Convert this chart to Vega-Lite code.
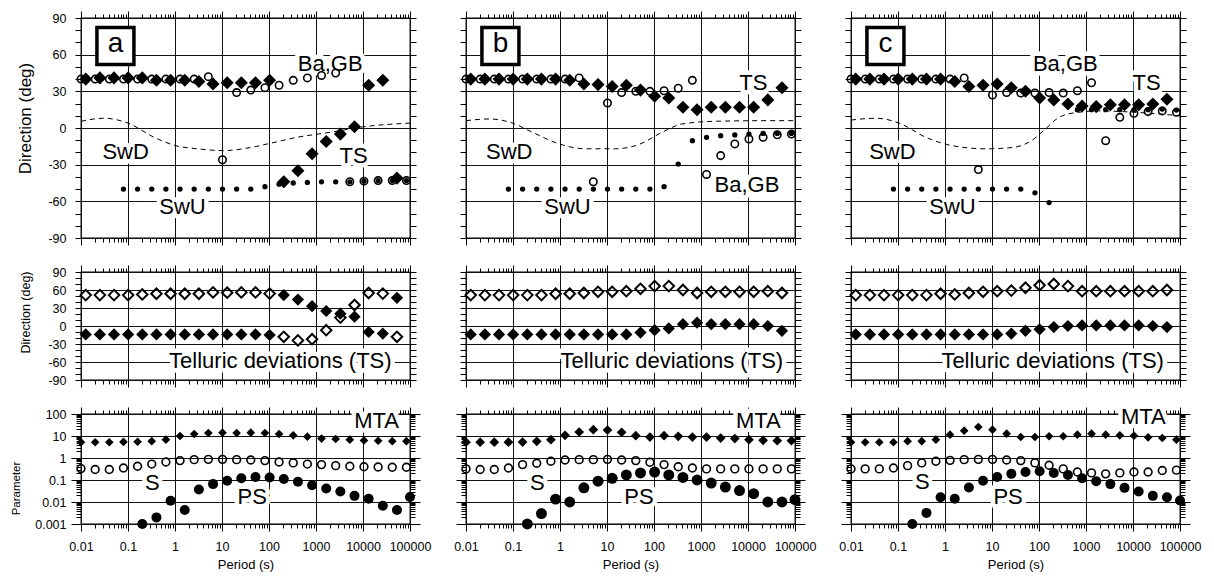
{
"$schema":"https://vega.github.io/schema/vega-lite/v6.json",
"padding":{"left":10,"top":9,"right":5,"bottom":5},
"background":"white",
"config":{
 "view":{"stroke":"black","strokeWidth":1.3},
 "font":"Liberation Sans",
 "axis":{"domain":false,"tickColor":"black","tickWidth":1,"gridColor":"#111","gridWidth":1,"labelColor":"black","labelFont":"Liberation Sans","labelFontSize":12.5,"titleFont":"Liberation Sans","titleFontWeight":"normal","titleColor":"black","labelFlush":false,"labelOverlap":false},
 "text":{"font":"Liberation Sans"}
},
"datasets":{
"aTS":[{"p":0.0126,"v":40},{"p":0.0252,"v":41},{"p":0.0504,"v":41},{"p":0.1007,"v":41},{"p":0.2014,"v":41},{"p":0.4029,"v":39},{"p":0.8057,"v":39},{"p":1.611,"v":39},{"p":3.223,"v":38},{"p":6.446,"v":36},{"p":12.89,"v":37},{"p":25.78,"v":37},{"p":51.57,"v":37},{"p":103.1,"v":39},{"p":206.3,"v":-44},{"p":412.5,"v":-35},{"p":825.1,"v":-21},{"p":1650,"v":-11},{"p":3300,"v":-5},{"p":6600,"v":1},{"p":13200,"v":35},{"p":26400,"v":39},{"p":52800,"v":-41}],
"aBG":[{"p":0.01,"v":40},{"p":0.02,"v":40},{"p":0.04,"v":40},{"p":0.08,"v":40},{"p":0.16,"v":40},{"p":0.32,"v":40},{"p":0.64,"v":40},{"p":1.28,"v":40},{"p":2.56,"v":40},{"p":5.12,"v":42},{"p":10.24,"v":-26},{"p":20.48,"v":29},{"p":40.96,"v":31},{"p":81.92,"v":33},{"p":163.84,"v":35},{"p":327.68,"v":39},{"p":655.36,"v":41},{"p":1310.72,"v":43},{"p":2621.44,"v":45},{"p":5242.88,"v":-44},{"p":10485.76,"v":-43.5},{"p":20971.52,"v":-43},{"p":41943.04,"v":-43},{"p":83886.08,"v":-43}],
"aSU":[{"p":0.08,"v":-50},{"p":0.16,"v":-50},{"p":0.32,"v":-50},{"p":0.64,"v":-50},{"p":1.28,"v":-50},{"p":2.56,"v":-50},{"p":5.12,"v":-50},{"p":10.24,"v":-50},{"p":20.48,"v":-50},{"p":40.96,"v":-50},{"p":81.92,"v":-48},{"p":163.84,"v":-46},{"p":327.68,"v":-45},{"p":655.36,"v":-44.5},{"p":1310.72,"v":-44},{"p":2621.44,"v":-44},{"p":5242.88,"v":-44},{"p":10485.76,"v":-43.5},{"p":20971.52,"v":-43},{"p":41943.04,"v":-43},{"p":83886.08,"v":-43}],
"aSD":[{"p":0.01,"v":5.5},{"p":0.031,"v":8},{"p":0.1,"v":4},{"p":0.36,"v":-7.6},{"p":1.04,"v":-14.5},{"p":3,"v":-17},{"p":11,"v":-18.5},{"p":40,"v":-16},{"p":107,"v":-12.5},{"p":400,"v":-7.6},{"p":2000,"v":-3.5},{"p":10200,"v":1},{"p":100000,"v":4}],
"bTS":[{"p":0.0126,"v":40},{"p":0.0252,"v":40},{"p":0.0504,"v":40},{"p":0.1007,"v":40},{"p":0.2014,"v":40},{"p":0.4029,"v":40},{"p":0.8057,"v":40},{"p":1.611,"v":39},{"p":3.223,"v":36},{"p":6.446,"v":35.5},{"p":12.89,"v":34},{"p":25.78,"v":35},{"p":51.57,"v":31},{"p":103.1,"v":26},{"p":206.3,"v":24.5},{"p":412.5,"v":17},{"p":825.1,"v":15},{"p":1650,"v":17},{"p":3300,"v":17},{"p":6600,"v":17},{"p":13200,"v":17},{"p":26400,"v":23},{"p":52800,"v":33}],
"bBG":[{"p":0.01,"v":40},{"p":0.02,"v":40},{"p":0.04,"v":40},{"p":0.08,"v":40},{"p":0.16,"v":40},{"p":0.32,"v":40},{"p":0.64,"v":40},{"p":1.28,"v":40},{"p":2.56,"v":41},{"p":5.12,"v":-44},{"p":10.24,"v":20.5},{"p":20.48,"v":29},{"p":40.96,"v":30},{"p":81.92,"v":30},{"p":163.84,"v":30.5},{"p":327.68,"v":32.5},{"p":655.36,"v":39},{"p":1310.72,"v":-38},{"p":2621.44,"v":-22.6},{"p":5242.88,"v":-13},{"p":10485.76,"v":-9},{"p":20971.52,"v":-7.6},{"p":41943.04,"v":-5.5},{"p":83886.08,"v":-5}],
"bSU":[{"p":0.08,"v":-50},{"p":0.16,"v":-50},{"p":0.32,"v":-50},{"p":0.64,"v":-50},{"p":1.28,"v":-50},{"p":2.56,"v":-50},{"p":5.12,"v":-50},{"p":10.24,"v":-50},{"p":20.48,"v":-50},{"p":40.96,"v":-50},{"p":81.92,"v":-50},{"p":163.84,"v":-48},{"p":327.68,"v":-29.5},{"p":655.36,"v":-10.4},{"p":1310.72,"v":-7.6},{"p":2621.44,"v":-6.3},{"p":5242.88,"v":-5.7},{"p":10485.76,"v":-5},{"p":20971.52,"v":-4.4},{"p":41943.04,"v":-4.4},{"p":83886.08,"v":-4.4}],
"bSD":[{"p":0.01,"v":6},{"p":0.0313,"v":7.4},{"p":0.098,"v":4},{"p":0.26,"v":-3.5},{"p":0.955,"v":-13},{"p":3.5,"v":-17},{"p":15.2,"v":-17},{"p":47,"v":-13.6},{"p":149,"v":-3.5},{"p":396,"v":3.3},{"p":2000,"v":5.5},{"p":23000,"v":6},{"p":100000,"v":6}],
"cTS":[{"p":0.0126,"v":40},{"p":0.0252,"v":40},{"p":0.0504,"v":40},{"p":0.1007,"v":40},{"p":0.2014,"v":40},{"p":0.4029,"v":40},{"p":0.8057,"v":40},{"p":1.611,"v":38},{"p":3.223,"v":34},{"p":6.446,"v":35},{"p":12.89,"v":36},{"p":25.78,"v":33},{"p":51.57,"v":30},{"p":103.1,"v":24.5},{"p":206.3,"v":23},{"p":412.5,"v":19.6},{"p":825.1,"v":18},{"p":1650,"v":17.5},{"p":3300,"v":19},{"p":6600,"v":19},{"p":13200,"v":19},{"p":26400,"v":19.6},{"p":52800,"v":23.5}],
"cBG":[{"p":0.01,"v":40},{"p":0.02,"v":40},{"p":0.04,"v":40},{"p":0.08,"v":40},{"p":0.16,"v":40},{"p":0.32,"v":40},{"p":0.64,"v":40},{"p":1.28,"v":40},{"p":2.56,"v":41},{"p":5.12,"v":-34},{"p":10.24,"v":27},{"p":20.48,"v":29},{"p":40.96,"v":28.6},{"p":81.92,"v":28.6},{"p":163.84,"v":29},{"p":327.68,"v":28.6},{"p":655.36,"v":30.5},{"p":1310.72,"v":37},{"p":2621.44,"v":-10.4},{"p":5242.88,"v":8.7},{"p":10485.76,"v":12},{"p":20971.52,"v":13.4},{"p":41943.04,"v":14},{"p":83886.08,"v":12.8}],
"cSU":[{"p":0.08,"v":-50},{"p":0.16,"v":-50},{"p":0.32,"v":-50},{"p":0.64,"v":-50},{"p":1.28,"v":-50},{"p":2.56,"v":-50},{"p":5.12,"v":-50},{"p":10.24,"v":-50},{"p":20.48,"v":-50},{"p":40.96,"v":-50},{"p":81.92,"v":-53},{"p":163.84,"v":-61},{"p":655.36,"v":15},{"p":1310.72,"v":15},{"p":2621.44,"v":15},{"p":5242.88,"v":15},{"p":10485.76,"v":15},{"p":20971.52,"v":15},{"p":41943.04,"v":15.5},{"p":83886.08,"v":14.7}],
"cSD":[{"p":0.01,"v":6.5},{"p":0.034,"v":8},{"p":0.106,"v":4},{"p":0.39,"v":-7.6},{"p":1.44,"v":-14.5},{"p":7.3,"v":-17},{"p":27,"v":-16},{"p":71,"v":-10},{"p":135,"v":-1},{"p":250,"v":8},{"p":590,"v":12.5},{"p":1860,"v":14},{"p":9500,"v":13},{"p":100000,"v":10}],
"aMO":[{"p":0.0126,"v":51.5},{"p":0.0252,"v":51.5},{"p":0.0504,"v":51.5},{"p":0.1007,"v":51.5},{"p":0.2014,"v":52.6},{"p":0.4029,"v":53.7},{"p":0.8057,"v":53.7},{"p":1.611,"v":53.7},{"p":3.223,"v":53.7},{"p":6.446,"v":56},{"p":12.89,"v":55.5},{"p":25.78,"v":56},{"p":51.57,"v":56},{"p":103.1,"v":54},{"p":206.3,"v":-18},{"p":412.5,"v":-24},{"p":825.1,"v":-22},{"p":1650,"v":-7},{"p":3300,"v":14},{"p":6600,"v":35},{"p":13200,"v":55},{"p":26400,"v":54},{"p":52800,"v":-18}],
"aMF":[{"p":0.0126,"v":-14},{"p":0.0252,"v":-14},{"p":0.0504,"v":-14},{"p":0.1007,"v":-14},{"p":0.2014,"v":-14},{"p":0.4029,"v":-14},{"p":0.8057,"v":-14},{"p":1.611,"v":-14},{"p":3.223,"v":-14},{"p":6.446,"v":-14},{"p":12.89,"v":-14},{"p":25.78,"v":-14},{"p":51.57,"v":-14},{"p":103.1,"v":-15},{"p":206.3,"v":51.5},{"p":412.5,"v":44},{"p":825.1,"v":33},{"p":1650,"v":25},{"p":3300,"v":20.5},{"p":6600,"v":15.5},{"p":13200,"v":-10},{"p":26400,"v":-12.7},{"p":52800,"v":47}],
"bMO":[{"p":0.0126,"v":51.5},{"p":0.0252,"v":51.5},{"p":0.0504,"v":51.5},{"p":0.1007,"v":51.5},{"p":0.2014,"v":51.5},{"p":0.4029,"v":51.5},{"p":0.8057,"v":53.7},{"p":1.611,"v":53.7},{"p":3.223,"v":55},{"p":6.446,"v":57},{"p":12.89,"v":57},{"p":25.78,"v":58},{"p":51.57,"v":62},{"p":103.1,"v":66.5},{"p":206.3,"v":66.5},{"p":412.5,"v":60},{"p":825.1,"v":55},{"p":1650,"v":57},{"p":3300,"v":57},{"p":6600,"v":57},{"p":13200,"v":57},{"p":26400,"v":58},{"p":52800,"v":55}],
"bMF":[{"p":0.0126,"v":-14},{"p":0.0252,"v":-14},{"p":0.0504,"v":-14},{"p":0.1007,"v":-14},{"p":0.2014,"v":-14},{"p":0.4029,"v":-14},{"p":0.8057,"v":-14},{"p":1.611,"v":-14},{"p":3.223,"v":-14},{"p":6.446,"v":-14},{"p":12.89,"v":-14},{"p":25.78,"v":-14},{"p":51.57,"v":-11},{"p":103.1,"v":-7},{"p":206.3,"v":-4},{"p":412.5,"v":3},{"p":825.1,"v":5.5},{"p":1650,"v":3},{"p":3300,"v":3},{"p":6600,"v":3},{"p":13200,"v":3},{"p":26400,"v":0},{"p":52800,"v":-8}],
"cMO":[{"p":0.0126,"v":51.5},{"p":0.0252,"v":51.5},{"p":0.0504,"v":51.5},{"p":0.1007,"v":51.5},{"p":0.2014,"v":51.5},{"p":0.4029,"v":51.5},{"p":0.8057,"v":53.7},{"p":1.611,"v":52.6},{"p":3.223,"v":55},{"p":6.446,"v":57},{"p":12.89,"v":58},{"p":25.78,"v":59},{"p":51.57,"v":63.7},{"p":103.1,"v":68},{"p":206.3,"v":70},{"p":412.5,"v":66.5},{"p":825.1,"v":58},{"p":1650,"v":58},{"p":3300,"v":58},{"p":6600,"v":58},{"p":13200,"v":58},{"p":26400,"v":58},{"p":52800,"v":60}],
"cMF":[{"p":0.0126,"v":-14},{"p":0.0252,"v":-14},{"p":0.0504,"v":-14},{"p":0.1007,"v":-14},{"p":0.2014,"v":-14},{"p":0.4029,"v":-14},{"p":0.8057,"v":-14},{"p":1.611,"v":-14},{"p":3.223,"v":-14},{"p":6.446,"v":-14},{"p":12.89,"v":-14},{"p":25.78,"v":-12.7},{"p":51.57,"v":-8},{"p":103.1,"v":-5.5},{"p":206.3,"v":-1.7},{"p":412.5,"v":0},{"p":825.1,"v":1},{"p":1650,"v":1},{"p":3300,"v":1},{"p":6600,"v":1},{"p":13200,"v":1},{"p":26400,"v":0},{"p":52800,"v":-1.7}],
"aMTA":[{"p":0.01,"v":5.2},{"p":0.02,"v":5.2},{"p":0.04,"v":5.2},{"p":0.08,"v":5.4},{"p":0.16,"v":5.5},{"p":0.32,"v":5.8},{"p":0.64,"v":6.8},{"p":1.28,"v":10},{"p":2.56,"v":12.3},{"p":5.12,"v":13.7},{"p":10.24,"v":14.2},{"p":20.48,"v":13.7},{"p":40.96,"v":14.2},{"p":81.92,"v":13.7},{"p":163.84,"v":12.3},{"p":327.68,"v":10.7},{"p":655.36,"v":9.3},{"p":1310.72,"v":7.6},{"p":2621.44,"v":7.3},{"p":5242.88,"v":6.8},{"p":10485.76,"v":6.3},{"p":20971.52,"v":6.1},{"p":41943.04,"v":5.8},{"p":83886.08,"v":5.8}],
"aS":[{"p":0.01,"v":0.33},{"p":0.02,"v":0.3},{"p":0.04,"v":0.3},{"p":0.08,"v":0.35},{"p":0.16,"v":0.42},{"p":0.32,"v":0.53},{"p":0.64,"v":0.66},{"p":1.28,"v":0.76},{"p":2.56,"v":0.84},{"p":5.12,"v":0.87},{"p":10.24,"v":0.87},{"p":20.48,"v":0.84},{"p":40.96,"v":0.81},{"p":81.92,"v":0.76},{"p":163.84,"v":0.66},{"p":327.68,"v":0.6},{"p":655.36,"v":0.53},{"p":1310.72,"v":0.5},{"p":2621.44,"v":0.45},{"p":5242.88,"v":0.42},{"p":10485.76,"v":0.4},{"p":20971.52,"v":0.39},{"p":41943.04,"v":0.38},{"p":83886.08,"v":0.38}],
"aPS":[{"p":0.2014,"v":0.001},{"p":0.4029,"v":0.002},{"p":0.8057,"v":0.0114},{"p":1.611,"v":0.0043},{"p":3.223,"v":0.037},{"p":6.446,"v":0.065},{"p":12.89,"v":0.093},{"p":25.78,"v":0.12},{"p":51.57,"v":0.137},{"p":103.1,"v":0.13},{"p":206.3,"v":0.11},{"p":412.5,"v":0.083},{"p":825.1,"v":0.058},{"p":1650,"v":0.041},{"p":3300,"v":0.03},{"p":6600,"v":0.019},{"p":13200,"v":0.0141},{"p":26400,"v":0.0068},{"p":52800,"v":0.0043},{"p":100000,"v":0.017}],
"bMTA":[{"p":0.01,"v":5.2},{"p":0.02,"v":5.2},{"p":0.04,"v":5.2},{"p":0.08,"v":5.2},{"p":0.16,"v":5.3},{"p":0.32,"v":5.7},{"p":0.64,"v":6.8},{"p":1.28,"v":10.7},{"p":2.56,"v":15.2},{"p":5.12,"v":19.4},{"p":10.24,"v":18.7},{"p":20.48,"v":14.7},{"p":40.96,"v":10.4},{"p":81.92,"v":9},{"p":163.84,"v":10.4},{"p":327.68,"v":9.7},{"p":655.36,"v":9},{"p":1310.72,"v":9},{"p":2621.44,"v":8.1},{"p":5242.88,"v":7.6},{"p":10485.76,"v":6.8},{"p":20971.52,"v":6.4},{"p":41943.04,"v":6.1},{"p":83886.08,"v":6.1}],
"bS":[{"p":0.01,"v":0.32},{"p":0.02,"v":0.3},{"p":0.04,"v":0.3},{"p":0.08,"v":0.35},{"p":0.16,"v":0.5},{"p":0.32,"v":0.58},{"p":0.64,"v":0.71},{"p":1.28,"v":0.81},{"p":2.56,"v":0.84},{"p":5.12,"v":0.84},{"p":10.24,"v":0.87},{"p":20.48,"v":0.81},{"p":40.96,"v":0.76},{"p":81.92,"v":0.64},{"p":163.84,"v":0.5},{"p":327.68,"v":0.4},{"p":655.36,"v":0.35},{"p":1310.72,"v":0.32},{"p":2621.44,"v":0.32},{"p":5242.88,"v":0.32},{"p":10485.76,"v":0.32},{"p":20971.52,"v":0.32},{"p":41943.04,"v":0.32},{"p":83886.08,"v":0.32}],
"bPS":[{"p":0.2014,"v":0.001},{"p":0.4029,"v":0.003},{"p":0.8057,"v":0.0135},{"p":1.611,"v":0.01},{"p":3.223,"v":0.044},{"p":6.446,"v":0.088},{"p":12.89,"v":0.12},{"p":25.78,"v":0.17},{"p":51.57,"v":0.21},{"p":103.1,"v":0.23},{"p":206.3,"v":0.17},{"p":412.5,"v":0.13},{"p":825.1,"v":0.1},{"p":1650,"v":0.073},{"p":3300,"v":0.048},{"p":6600,"v":0.033},{"p":13200,"v":0.024},{"p":26400,"v":0.01},{"p":52800,"v":0.01},{"p":100000,"v":0.0128}],
"cMTA":[{"p":0.01,"v":5.2},{"p":0.02,"v":5.2},{"p":0.04,"v":5.2},{"p":0.08,"v":5.2},{"p":0.16,"v":5.8},{"p":0.32,"v":5.8},{"p":0.64,"v":6.8},{"p":1.28,"v":11.5},{"p":2.56,"v":17.5},{"p":5.12,"v":25.6},{"p":10.24,"v":19.4},{"p":20.48,"v":12.8},{"p":40.96,"v":9},{"p":81.92,"v":9},{"p":163.84,"v":9.7},{"p":327.68,"v":9.7},{"p":655.36,"v":11.5},{"p":1310.72,"v":12.8},{"p":2621.44,"v":11.5},{"p":5242.88,"v":10.7},{"p":10485.76,"v":10.4},{"p":20971.52,"v":8.7},{"p":41943.04,"v":8.1},{"p":83886.08,"v":6.8}],
"cS":[{"p":0.01,"v":0.32},{"p":0.02,"v":0.32},{"p":0.04,"v":0.32},{"p":0.08,"v":0.35},{"p":0.16,"v":0.45},{"p":0.32,"v":0.6},{"p":0.64,"v":0.71},{"p":1.28,"v":0.78},{"p":2.56,"v":0.84},{"p":5.12,"v":0.87},{"p":10.24,"v":0.87},{"p":20.48,"v":0.81},{"p":40.96,"v":0.76},{"p":81.92,"v":0.6},{"p":163.84,"v":0.47},{"p":327.68,"v":0.32},{"p":655.36,"v":0.23},{"p":1310.72,"v":0.21},{"p":2621.44,"v":0.19},{"p":5242.88,"v":0.21},{"p":10485.76,"v":0.23},{"p":20971.52,"v":0.23},{"p":41943.04,"v":0.27},{"p":83886.08,"v":0.28}],
"cPS":[{"p":0.2014,"v":0.001},{"p":0.4029,"v":0.0032},{"p":0.8057,"v":0.0165},{"p":1.611,"v":0.014},{"p":3.223,"v":0.046},{"p":6.446,"v":0.093},{"p":12.89,"v":0.137},{"p":25.78,"v":0.19},{"p":51.57,"v":0.23},{"p":103.1,"v":0.25},{"p":206.3,"v":0.21},{"p":412.5,"v":0.17},{"p":825.1,"v":0.12},{"p":1650,"v":0.088},{"p":3300,"v":0.065},{"p":6600,"v":0.044},{"p":13200,"v":0.03},{"p":26400,"v":0.019},{"p":52800,"v":0.0165},{"p":100000,"v":0.0118}],
"ann":[
{"k":"a","r":"top","t":"Ba,GB","p":2000,"v":52},{"k":"a","r":"top","t":"SwD","p":0.089,"v":-20},{"k":"a","r":"top","t":"TS","p":6300,"v":-23},{"k":"a","r":"top","t":"SwU","p":1.44,"v":-65},
{"k":"b","r":"top","t":"TS","p":13000,"v":37},{"k":"b","r":"top","t":"SwD","p":0.083,"v":-20},{"k":"b","r":"top","t":"SwU","p":1.44,"v":-65},{"k":"b","r":"top","t":"Ba,GB","p":9500,"v":-47},
{"k":"c","r":"top","t":"Ba,GB","p":363,"v":52},{"k":"c","r":"top","t":"TS","p":19500,"v":37},{"k":"c","r":"top","t":"SwD","p":0.076,"v":-20},{"k":"c","r":"top","t":"SwU","p":1.44,"v":-65},
{"k":"a","r":"mid","t":"Telluric deviations (TS)","p":174,"v":-58},{"k":"b","r":"mid","t":"Telluric deviations (TS)","p":240,"v":-58},{"k":"c","r":"mid","t":"Telluric deviations (TS)","p":195,"v":-58},
{"k":"a","r":"bot","t":"MTA","p":19500,"v":46},{"k":"a","r":"bot","t":"S","p":0.33,"v":0.073},{"k":"a","r":"bot","t":"PS","p":44,"v":0.017},
{"k":"b","r":"bot","t":"MTA","p":16600,"v":46},{"k":"b","r":"bot","t":"S","p":0.33,"v":0.073},{"k":"b","r":"bot","t":"PS","p":48,"v":0.017},
{"k":"c","r":"bot","t":"MTA","p":16600,"v":70},{"k":"c","r":"bot","t":"S","p":0.33,"v":0.08},{"k":"c","r":"bot","t":"PS","p":22,"v":0.017},
{"k":"a","r":"box","t":"a","p":0.054,"v":67},{"k":"b","r":"box","t":"b","p":0.054,"v":67},{"k":"c","r":"box","t":"c","p":0.054,"v":67}
]
},
"columns":3,
"spacing":{"row":34,"column":56},
"bounds":"flush",
"concat":[
{"width":329,"height":220,"resolve":{"axis":{"x":"independent","y":"independent"}},"layer":[
 {"data":{"name":"aSD"},"mark":{"type":"line","color":"black","strokeWidth":1,"strokeDash":[5,4],"interpolate":"monotone"},
  "encoding":{"x":{"field":"p","type":"quantitative","scale":{"type":"log","domain":[0.01,100000],"nice":false},"axis":{"orient":"bottom","values":[0.01,0.02,0.03,0.04,0.05,0.06,0.07,0.08,0.09,0.1,0.2,0.3,0.4,0.5,0.6,0.7,0.8,0.9,1,2,3,4,5,6,7,8,9,10,20,30,40,50,60,70,80,90,100,200,300,400,500,600,700,800,900,1000,2000,3000,4000,5000,6000,7000,8000,9000,10000,20000,30000,40000,50000,60000,70000,80000,90000,100000],"labels":false,"title":null,"grid":true,"gridOpacity":{"condition":{"test":"abs(log(datum.value)/LN10-round(log(datum.value)/LN10))<0.01","value":1},"value":0},"tickSize":{"condition":{"test":"abs(log(datum.value)/LN10-round(log(datum.value)/LN10))<0.01","value":7},"value":4}}},
  "y":{"field":"v","type":"quantitative","scale":{"domain":[-90,90],"nice":false},"axis":{"orient":"left","values":[-90,-80,-70,-60,-50,-40,-30,-20,-10,0,10,20,30,40,50,60,70,80,90],"grid":true,"gridOpacity":{"condition":{"test":"datum.value%30==0","value":1},"value":0},"tickSize":6,"labelExpr":"datum.value%30==0?''+datum.value:''","labelPadding":9,"title":"Direction (deg)","titleFontSize":17,"titlePadding":13,"titleY":100}}}},
 {"data":{"name":"ann"},"transform":[{"filter":"datum.k=='a'&&datum.r=='top'"}],"mark":{"type":"text","fontSize":22,"fill":"white","stroke":"white","strokeWidth":9,"strokeJoin":"round"},
  "encoding":{"x":{"field":"p","type":"quantitative","scale":{"type":"log","domain":[0.01,100000],"nice":false},"axis":{"orient":"top","values":[0.01,0.02,0.03,0.04,0.05,0.06,0.07,0.08,0.09,0.1,0.2,0.3,0.4,0.5,0.6,0.7,0.8,0.9,1,2,3,4,5,6,7,8,9,10,20,30,40,50,60,70,80,90,100,200,300,400,500,600,700,800,900,1000,2000,3000,4000,5000,6000,7000,8000,9000,10000,20000,30000,40000,50000,60000,70000,80000,90000,100000],"labels":false,"title":null,"grid":false,"tickSize":{"condition":{"test":"abs(log(datum.value)/LN10-round(log(datum.value)/LN10))<0.01","value":7},"value":4}}},
  "y":{"field":"v","type":"quantitative","scale":{"domain":[-90,90],"nice":false},"axis":{"orient":"right","values":[-90,-80,-70,-60,-50,-40,-30,-20,-10,0,10,20,30,40,50,60,70,80,90],"labels":false,"title":null,"grid":false,"tickSize":6}},"text":{"field":"t"}}},
 {"data":{"name":"aBG"},"mark":{"type":"point","shape":"circle","filled":false,"color":"black","strokeWidth":1.6,"size":55,"opacity":1},"encoding":{"x":{"field":"p","type":"quantitative","scale":{"type":"log","domain":[0.01,100000],"nice":false},"axis":null},"y":{"field":"v","type":"quantitative","scale":{"domain":[-90,90],"nice":false},"axis":null}}},
 {"data":{"name":"aSU"},"mark":{"type":"point","shape":"circle","filled":true,"color":"black","size":28,"opacity":1},"encoding":{"x":{"field":"p","type":"quantitative","scale":{"type":"log","domain":[0.01,100000],"nice":false},"axis":null},"y":{"field":"v","type":"quantitative","scale":{"domain":[-90,90],"nice":false},"axis":null}}},
 {"data":{"name":"aTS"},"mark":{"type":"point","shape":"diamond","filled":true,"color":"black","size":170,"opacity":1},"encoding":{"x":{"field":"p","type":"quantitative","scale":{"type":"log","domain":[0.01,100000],"nice":false},"axis":null},"y":{"field":"v","type":"quantitative","scale":{"domain":[-90,90],"nice":false},"axis":null}}},
 {"data":{"name":"ann"},"transform":[{"filter":"datum.k=='a'&&datum.r=='box'"}],"mark":{"type":"point","shape":"square","filled":true,"fill":"white","stroke":"black","strokeWidth":3.5,"size":1369,"opacity":1},"encoding":{"x":{"field":"p","type":"quantitative","scale":{"type":"log","domain":[0.01,100000],"nice":false},"axis":null},"y":{"field":"v","type":"quantitative","scale":{"domain":[-90,90],"nice":false},"axis":null}}},
 {"data":{"name":"ann"},"transform":[{"filter":"datum.k=='a'&&datum.r=='box'"}],"mark":{"type":"text","fontSize":28,"color":"black","dy":-2},"encoding":{"x":{"field":"p","type":"quantitative","scale":{"type":"log","domain":[0.01,100000],"nice":false},"axis":null},"y":{"field":"v","type":"quantitative","scale":{"domain":[-90,90],"nice":false},"axis":null},"text":{"field":"t"}}},
 {"data":{"name":"ann"},"transform":[{"filter":"datum.k=='a'&&datum.r=='top'"}],"mark":{"type":"text","fontSize":22,"color":"black"},"encoding":{"x":{"field":"p","type":"quantitative","scale":{"type":"log","domain":[0.01,100000],"nice":false},"axis":null},"y":{"field":"v","type":"quantitative","scale":{"domain":[-90,90],"nice":false},"axis":null},"text":{"field":"t"}}}
]},
{"width":329,"height":220,"resolve":{"axis":{"x":"independent","y":"independent"}},"layer":[
 {"data":{"name":"bSD"},"mark":{"type":"line","color":"black","strokeWidth":1,"strokeDash":[5,4],"interpolate":"monotone"},
  "encoding":{"x":{"field":"p","type":"quantitative","scale":{"type":"log","domain":[0.01,100000],"nice":false},"axis":{"orient":"bottom","values":[0.01,0.02,0.03,0.04,0.05,0.06,0.07,0.08,0.09,0.1,0.2,0.3,0.4,0.5,0.6,0.7,0.8,0.9,1,2,3,4,5,6,7,8,9,10,20,30,40,50,60,70,80,90,100,200,300,400,500,600,700,800,900,1000,2000,3000,4000,5000,6000,7000,8000,9000,10000,20000,30000,40000,50000,60000,70000,80000,90000,100000],"labels":false,"title":null,"grid":true,"gridOpacity":{"condition":{"test":"abs(log(datum.value)/LN10-round(log(datum.value)/LN10))<0.01","value":1},"value":0},"tickSize":{"condition":{"test":"abs(log(datum.value)/LN10-round(log(datum.value)/LN10))<0.01","value":7},"value":4}}},
  "y":{"field":"v","type":"quantitative","scale":{"domain":[-90,90],"nice":false},"axis":{"orient":"left","values":[-90,-80,-70,-60,-50,-40,-30,-20,-10,0,10,20,30,40,50,60,70,80,90],"grid":true,"gridOpacity":{"condition":{"test":"datum.value%30==0","value":1},"value":0},"tickSize":6,"labels":false,"title":null}}}},
 {"data":{"name":"ann"},"transform":[{"filter":"datum.k=='b'&&datum.r=='top'"}],"mark":{"type":"text","fontSize":22,"fill":"white","stroke":"white","strokeWidth":9,"strokeJoin":"round"},
  "encoding":{"x":{"field":"p","type":"quantitative","scale":{"type":"log","domain":[0.01,100000],"nice":false},"axis":{"orient":"top","values":[0.01,0.02,0.03,0.04,0.05,0.06,0.07,0.08,0.09,0.1,0.2,0.3,0.4,0.5,0.6,0.7,0.8,0.9,1,2,3,4,5,6,7,8,9,10,20,30,40,50,60,70,80,90,100,200,300,400,500,600,700,800,900,1000,2000,3000,4000,5000,6000,7000,8000,9000,10000,20000,30000,40000,50000,60000,70000,80000,90000,100000],"labels":false,"title":null,"grid":false,"tickSize":{"condition":{"test":"abs(log(datum.value)/LN10-round(log(datum.value)/LN10))<0.01","value":7},"value":4}}},
  "y":{"field":"v","type":"quantitative","scale":{"domain":[-90,90],"nice":false},"axis":{"orient":"right","values":[-90,-80,-70,-60,-50,-40,-30,-20,-10,0,10,20,30,40,50,60,70,80,90],"labels":false,"title":null,"grid":false,"tickSize":6}},"text":{"field":"t"}}},
 {"data":{"name":"bBG"},"mark":{"type":"point","shape":"circle","filled":false,"color":"black","strokeWidth":1.6,"size":55,"opacity":1},"encoding":{"x":{"field":"p","type":"quantitative","scale":{"type":"log","domain":[0.01,100000],"nice":false},"axis":null},"y":{"field":"v","type":"quantitative","scale":{"domain":[-90,90],"nice":false},"axis":null}}},
 {"data":{"name":"bSU"},"mark":{"type":"point","shape":"circle","filled":true,"color":"black","size":28,"opacity":1},"encoding":{"x":{"field":"p","type":"quantitative","scale":{"type":"log","domain":[0.01,100000],"nice":false},"axis":null},"y":{"field":"v","type":"quantitative","scale":{"domain":[-90,90],"nice":false},"axis":null}}},
 {"data":{"name":"bTS"},"mark":{"type":"point","shape":"diamond","filled":true,"color":"black","size":170,"opacity":1},"encoding":{"x":{"field":"p","type":"quantitative","scale":{"type":"log","domain":[0.01,100000],"nice":false},"axis":null},"y":{"field":"v","type":"quantitative","scale":{"domain":[-90,90],"nice":false},"axis":null}}},
 {"data":{"name":"ann"},"transform":[{"filter":"datum.k=='b'&&datum.r=='box'"}],"mark":{"type":"point","shape":"square","filled":true,"fill":"white","stroke":"black","strokeWidth":3.5,"size":1369,"opacity":1},"encoding":{"x":{"field":"p","type":"quantitative","scale":{"type":"log","domain":[0.01,100000],"nice":false},"axis":null},"y":{"field":"v","type":"quantitative","scale":{"domain":[-90,90],"nice":false},"axis":null}}},
 {"data":{"name":"ann"},"transform":[{"filter":"datum.k=='b'&&datum.r=='box'"}],"mark":{"type":"text","fontSize":28,"color":"black","dy":-2},"encoding":{"x":{"field":"p","type":"quantitative","scale":{"type":"log","domain":[0.01,100000],"nice":false},"axis":null},"y":{"field":"v","type":"quantitative","scale":{"domain":[-90,90],"nice":false},"axis":null},"text":{"field":"t"}}},
 {"data":{"name":"ann"},"transform":[{"filter":"datum.k=='b'&&datum.r=='top'"}],"mark":{"type":"text","fontSize":22,"color":"black"},"encoding":{"x":{"field":"p","type":"quantitative","scale":{"type":"log","domain":[0.01,100000],"nice":false},"axis":null},"y":{"field":"v","type":"quantitative","scale":{"domain":[-90,90],"nice":false},"axis":null},"text":{"field":"t"}}}
]},
{"width":329,"height":220,"resolve":{"axis":{"x":"independent","y":"independent"}},"layer":[
 {"data":{"name":"cSD"},"mark":{"type":"line","color":"black","strokeWidth":1,"strokeDash":[5,4],"interpolate":"monotone"},
  "encoding":{"x":{"field":"p","type":"quantitative","scale":{"type":"log","domain":[0.01,100000],"nice":false},"axis":{"orient":"bottom","values":[0.01,0.02,0.03,0.04,0.05,0.06,0.07,0.08,0.09,0.1,0.2,0.3,0.4,0.5,0.6,0.7,0.8,0.9,1,2,3,4,5,6,7,8,9,10,20,30,40,50,60,70,80,90,100,200,300,400,500,600,700,800,900,1000,2000,3000,4000,5000,6000,7000,8000,9000,10000,20000,30000,40000,50000,60000,70000,80000,90000,100000],"labels":false,"title":null,"grid":true,"gridOpacity":{"condition":{"test":"abs(log(datum.value)/LN10-round(log(datum.value)/LN10))<0.01","value":1},"value":0},"tickSize":{"condition":{"test":"abs(log(datum.value)/LN10-round(log(datum.value)/LN10))<0.01","value":7},"value":4}}},
  "y":{"field":"v","type":"quantitative","scale":{"domain":[-90,90],"nice":false},"axis":{"orient":"left","values":[-90,-80,-70,-60,-50,-40,-30,-20,-10,0,10,20,30,40,50,60,70,80,90],"grid":true,"gridOpacity":{"condition":{"test":"datum.value%30==0","value":1},"value":0},"tickSize":6,"labels":false,"title":null}}}},
 {"data":{"name":"ann"},"transform":[{"filter":"datum.k=='c'&&datum.r=='top'"}],"mark":{"type":"text","fontSize":22,"fill":"white","stroke":"white","strokeWidth":9,"strokeJoin":"round"},
  "encoding":{"x":{"field":"p","type":"quantitative","scale":{"type":"log","domain":[0.01,100000],"nice":false},"axis":{"orient":"top","values":[0.01,0.02,0.03,0.04,0.05,0.06,0.07,0.08,0.09,0.1,0.2,0.3,0.4,0.5,0.6,0.7,0.8,0.9,1,2,3,4,5,6,7,8,9,10,20,30,40,50,60,70,80,90,100,200,300,400,500,600,700,800,900,1000,2000,3000,4000,5000,6000,7000,8000,9000,10000,20000,30000,40000,50000,60000,70000,80000,90000,100000],"labels":false,"title":null,"grid":false,"tickSize":{"condition":{"test":"abs(log(datum.value)/LN10-round(log(datum.value)/LN10))<0.01","value":7},"value":4}}},
  "y":{"field":"v","type":"quantitative","scale":{"domain":[-90,90],"nice":false},"axis":{"orient":"right","values":[-90,-80,-70,-60,-50,-40,-30,-20,-10,0,10,20,30,40,50,60,70,80,90],"labels":false,"title":null,"grid":false,"tickSize":6}},"text":{"field":"t"}}},
 {"data":{"name":"cBG"},"mark":{"type":"point","shape":"circle","filled":false,"color":"black","strokeWidth":1.6,"size":55,"opacity":1},"encoding":{"x":{"field":"p","type":"quantitative","scale":{"type":"log","domain":[0.01,100000],"nice":false},"axis":null},"y":{"field":"v","type":"quantitative","scale":{"domain":[-90,90],"nice":false},"axis":null}}},
 {"data":{"name":"cSU"},"mark":{"type":"point","shape":"circle","filled":true,"color":"black","size":28,"opacity":1},"encoding":{"x":{"field":"p","type":"quantitative","scale":{"type":"log","domain":[0.01,100000],"nice":false},"axis":null},"y":{"field":"v","type":"quantitative","scale":{"domain":[-90,90],"nice":false},"axis":null}}},
 {"data":{"name":"cTS"},"mark":{"type":"point","shape":"diamond","filled":true,"color":"black","size":170,"opacity":1},"encoding":{"x":{"field":"p","type":"quantitative","scale":{"type":"log","domain":[0.01,100000],"nice":false},"axis":null},"y":{"field":"v","type":"quantitative","scale":{"domain":[-90,90],"nice":false},"axis":null}}},
 {"data":{"name":"ann"},"transform":[{"filter":"datum.k=='c'&&datum.r=='box'"}],"mark":{"type":"point","shape":"square","filled":true,"fill":"white","stroke":"black","strokeWidth":3.5,"size":1369,"opacity":1},"encoding":{"x":{"field":"p","type":"quantitative","scale":{"type":"log","domain":[0.01,100000],"nice":false},"axis":null},"y":{"field":"v","type":"quantitative","scale":{"domain":[-90,90],"nice":false},"axis":null}}},
 {"data":{"name":"ann"},"transform":[{"filter":"datum.k=='c'&&datum.r=='box'"}],"mark":{"type":"text","fontSize":28,"color":"black","dy":-2},"encoding":{"x":{"field":"p","type":"quantitative","scale":{"type":"log","domain":[0.01,100000],"nice":false},"axis":null},"y":{"field":"v","type":"quantitative","scale":{"domain":[-90,90],"nice":false},"axis":null},"text":{"field":"t"}}},
 {"data":{"name":"ann"},"transform":[{"filter":"datum.k=='c'&&datum.r=='top'"}],"mark":{"type":"text","fontSize":22,"color":"black"},"encoding":{"x":{"field":"p","type":"quantitative","scale":{"type":"log","domain":[0.01,100000],"nice":false},"axis":null},"y":{"field":"v","type":"quantitative","scale":{"domain":[-90,90],"nice":false},"axis":null},"text":{"field":"t"}}}
]},
{"width":329,"height":108,"resolve":{"axis":{"x":"independent","y":"independent"}},"layer":[
 {"data":{"name":"aMO"},"mark":{"type":"point","shape":"diamond","filled":false,"color":"black","strokeWidth":2,"size":110,"opacity":1},
  "encoding":{"x":{"field":"p","type":"quantitative","scale":{"type":"log","domain":[0.01,100000],"nice":false},"axis":{"orient":"bottom","values":[0.01,0.02,0.03,0.04,0.05,0.06,0.07,0.08,0.09,0.1,0.2,0.3,0.4,0.5,0.6,0.7,0.8,0.9,1,2,3,4,5,6,7,8,9,10,20,30,40,50,60,70,80,90,100,200,300,400,500,600,700,800,900,1000,2000,3000,4000,5000,6000,7000,8000,9000,10000,20000,30000,40000,50000,60000,70000,80000,90000,100000],"labels":false,"title":null,"grid":true,"gridOpacity":{"condition":{"test":"abs(log(datum.value)/LN10-round(log(datum.value)/LN10))<0.01","value":1},"value":0},"tickSize":{"condition":{"test":"abs(log(datum.value)/LN10-round(log(datum.value)/LN10))<0.01","value":7},"value":4}}},
  "y":{"field":"v","type":"quantitative","scale":{"domain":[-90,90],"nice":false},"axis":{"orient":"left","values":[-90,-80,-70,-60,-50,-40,-30,-20,-10,0,10,20,30,40,50,60,70,80,90],"grid":true,"gridOpacity":{"condition":{"test":"datum.value%30==0","value":1},"value":0},"tickSize":6,"labelExpr":"datum.value%30==0?''+datum.value:''","labelPadding":9,"title":"Direction (deg)","titleFontSize":12.5,"titlePadding":15,"titleY":40}}}},
 {"data":{"name":"ann"},"transform":[{"filter":"datum.k=='a'&&datum.r=='mid'"}],"mark":{"type":"text","fontSize":22,"fill":"white","stroke":"white","strokeWidth":9,"strokeJoin":"round"},
  "encoding":{"x":{"field":"p","type":"quantitative","scale":{"type":"log","domain":[0.01,100000],"nice":false},"axis":{"orient":"top","values":[0.01,0.02,0.03,0.04,0.05,0.06,0.07,0.08,0.09,0.1,0.2,0.3,0.4,0.5,0.6,0.7,0.8,0.9,1,2,3,4,5,6,7,8,9,10,20,30,40,50,60,70,80,90,100,200,300,400,500,600,700,800,900,1000,2000,3000,4000,5000,6000,7000,8000,9000,10000,20000,30000,40000,50000,60000,70000,80000,90000,100000],"labels":false,"title":null,"grid":false,"tickSize":{"condition":{"test":"abs(log(datum.value)/LN10-round(log(datum.value)/LN10))<0.01","value":7},"value":4}}},
  "y":{"field":"v","type":"quantitative","scale":{"domain":[-90,90],"nice":false},"axis":{"orient":"right","values":[-90,-80,-70,-60,-50,-40,-30,-20,-10,0,10,20,30,40,50,60,70,80,90],"labels":false,"title":null,"grid":false,"tickSize":6}},"text":{"field":"t"}}},
 {"data":{"name":"aMF"},"mark":{"type":"point","shape":"diamond","filled":true,"color":"black","size":150,"opacity":1},"encoding":{"x":{"field":"p","type":"quantitative","scale":{"type":"log","domain":[0.01,100000],"nice":false},"axis":null},"y":{"field":"v","type":"quantitative","scale":{"domain":[-90,90],"nice":false},"axis":null}}},
 {"data":{"name":"ann"},"transform":[{"filter":"datum.k=='a'&&datum.r=='mid'"}],"mark":{"type":"text","fontSize":22,"color":"black"},"encoding":{"x":{"field":"p","type":"quantitative","scale":{"type":"log","domain":[0.01,100000],"nice":false},"axis":null},"y":{"field":"v","type":"quantitative","scale":{"domain":[-90,90],"nice":false},"axis":null},"text":{"field":"t"}}}
]},
{"width":329,"height":108,"resolve":{"axis":{"x":"independent","y":"independent"}},"layer":[
 {"data":{"name":"bMO"},"mark":{"type":"point","shape":"diamond","filled":false,"color":"black","strokeWidth":2,"size":110,"opacity":1},
  "encoding":{"x":{"field":"p","type":"quantitative","scale":{"type":"log","domain":[0.01,100000],"nice":false},"axis":{"orient":"bottom","values":[0.01,0.02,0.03,0.04,0.05,0.06,0.07,0.08,0.09,0.1,0.2,0.3,0.4,0.5,0.6,0.7,0.8,0.9,1,2,3,4,5,6,7,8,9,10,20,30,40,50,60,70,80,90,100,200,300,400,500,600,700,800,900,1000,2000,3000,4000,5000,6000,7000,8000,9000,10000,20000,30000,40000,50000,60000,70000,80000,90000,100000],"labels":false,"title":null,"grid":true,"gridOpacity":{"condition":{"test":"abs(log(datum.value)/LN10-round(log(datum.value)/LN10))<0.01","value":1},"value":0},"tickSize":{"condition":{"test":"abs(log(datum.value)/LN10-round(log(datum.value)/LN10))<0.01","value":7},"value":4}}},
  "y":{"field":"v","type":"quantitative","scale":{"domain":[-90,90],"nice":false},"axis":{"orient":"left","values":[-90,-80,-70,-60,-50,-40,-30,-20,-10,0,10,20,30,40,50,60,70,80,90],"grid":true,"gridOpacity":{"condition":{"test":"datum.value%30==0","value":1},"value":0},"tickSize":6,"labels":false,"title":null}}}},
 {"data":{"name":"ann"},"transform":[{"filter":"datum.k=='b'&&datum.r=='mid'"}],"mark":{"type":"text","fontSize":22,"fill":"white","stroke":"white","strokeWidth":9,"strokeJoin":"round"},
  "encoding":{"x":{"field":"p","type":"quantitative","scale":{"type":"log","domain":[0.01,100000],"nice":false},"axis":{"orient":"top","values":[0.01,0.02,0.03,0.04,0.05,0.06,0.07,0.08,0.09,0.1,0.2,0.3,0.4,0.5,0.6,0.7,0.8,0.9,1,2,3,4,5,6,7,8,9,10,20,30,40,50,60,70,80,90,100,200,300,400,500,600,700,800,900,1000,2000,3000,4000,5000,6000,7000,8000,9000,10000,20000,30000,40000,50000,60000,70000,80000,90000,100000],"labels":false,"title":null,"grid":false,"tickSize":{"condition":{"test":"abs(log(datum.value)/LN10-round(log(datum.value)/LN10))<0.01","value":7},"value":4}}},
  "y":{"field":"v","type":"quantitative","scale":{"domain":[-90,90],"nice":false},"axis":{"orient":"right","values":[-90,-80,-70,-60,-50,-40,-30,-20,-10,0,10,20,30,40,50,60,70,80,90],"labels":false,"title":null,"grid":false,"tickSize":6}},"text":{"field":"t"}}},
 {"data":{"name":"bMF"},"mark":{"type":"point","shape":"diamond","filled":true,"color":"black","size":150,"opacity":1},"encoding":{"x":{"field":"p","type":"quantitative","scale":{"type":"log","domain":[0.01,100000],"nice":false},"axis":null},"y":{"field":"v","type":"quantitative","scale":{"domain":[-90,90],"nice":false},"axis":null}}},
 {"data":{"name":"ann"},"transform":[{"filter":"datum.k=='b'&&datum.r=='mid'"}],"mark":{"type":"text","fontSize":22,"color":"black"},"encoding":{"x":{"field":"p","type":"quantitative","scale":{"type":"log","domain":[0.01,100000],"nice":false},"axis":null},"y":{"field":"v","type":"quantitative","scale":{"domain":[-90,90],"nice":false},"axis":null},"text":{"field":"t"}}}
]},
{"width":329,"height":108,"resolve":{"axis":{"x":"independent","y":"independent"}},"layer":[
 {"data":{"name":"cMO"},"mark":{"type":"point","shape":"diamond","filled":false,"color":"black","strokeWidth":2,"size":110,"opacity":1},
  "encoding":{"x":{"field":"p","type":"quantitative","scale":{"type":"log","domain":[0.01,100000],"nice":false},"axis":{"orient":"bottom","values":[0.01,0.02,0.03,0.04,0.05,0.06,0.07,0.08,0.09,0.1,0.2,0.3,0.4,0.5,0.6,0.7,0.8,0.9,1,2,3,4,5,6,7,8,9,10,20,30,40,50,60,70,80,90,100,200,300,400,500,600,700,800,900,1000,2000,3000,4000,5000,6000,7000,8000,9000,10000,20000,30000,40000,50000,60000,70000,80000,90000,100000],"labels":false,"title":null,"grid":true,"gridOpacity":{"condition":{"test":"abs(log(datum.value)/LN10-round(log(datum.value)/LN10))<0.01","value":1},"value":0},"tickSize":{"condition":{"test":"abs(log(datum.value)/LN10-round(log(datum.value)/LN10))<0.01","value":7},"value":4}}},
  "y":{"field":"v","type":"quantitative","scale":{"domain":[-90,90],"nice":false},"axis":{"orient":"left","values":[-90,-80,-70,-60,-50,-40,-30,-20,-10,0,10,20,30,40,50,60,70,80,90],"grid":true,"gridOpacity":{"condition":{"test":"datum.value%30==0","value":1},"value":0},"tickSize":6,"labels":false,"title":null}}}},
 {"data":{"name":"ann"},"transform":[{"filter":"datum.k=='c'&&datum.r=='mid'"}],"mark":{"type":"text","fontSize":22,"fill":"white","stroke":"white","strokeWidth":9,"strokeJoin":"round"},
  "encoding":{"x":{"field":"p","type":"quantitative","scale":{"type":"log","domain":[0.01,100000],"nice":false},"axis":{"orient":"top","values":[0.01,0.02,0.03,0.04,0.05,0.06,0.07,0.08,0.09,0.1,0.2,0.3,0.4,0.5,0.6,0.7,0.8,0.9,1,2,3,4,5,6,7,8,9,10,20,30,40,50,60,70,80,90,100,200,300,400,500,600,700,800,900,1000,2000,3000,4000,5000,6000,7000,8000,9000,10000,20000,30000,40000,50000,60000,70000,80000,90000,100000],"labels":false,"title":null,"grid":false,"tickSize":{"condition":{"test":"abs(log(datum.value)/LN10-round(log(datum.value)/LN10))<0.01","value":7},"value":4}}},
  "y":{"field":"v","type":"quantitative","scale":{"domain":[-90,90],"nice":false},"axis":{"orient":"right","values":[-90,-80,-70,-60,-50,-40,-30,-20,-10,0,10,20,30,40,50,60,70,80,90],"labels":false,"title":null,"grid":false,"tickSize":6}},"text":{"field":"t"}}},
 {"data":{"name":"cMF"},"mark":{"type":"point","shape":"diamond","filled":true,"color":"black","size":150,"opacity":1},"encoding":{"x":{"field":"p","type":"quantitative","scale":{"type":"log","domain":[0.01,100000],"nice":false},"axis":null},"y":{"field":"v","type":"quantitative","scale":{"domain":[-90,90],"nice":false},"axis":null}}},
 {"data":{"name":"ann"},"transform":[{"filter":"datum.k=='c'&&datum.r=='mid'"}],"mark":{"type":"text","fontSize":22,"color":"black"},"encoding":{"x":{"field":"p","type":"quantitative","scale":{"type":"log","domain":[0.01,100000],"nice":false},"axis":null},"y":{"field":"v","type":"quantitative","scale":{"domain":[-90,90],"nice":false},"axis":null},"text":{"field":"t"}}}
]},
{"width":329,"height":110,"resolve":{"axis":{"x":"independent","y":"independent"}},"layer":[
 {"data":{"name":"aMTA"},"mark":{"type":"point","shape":"diamond","filled":true,"color":"black","size":75,"opacity":1},
  "encoding":{"x":{"field":"p","type":"quantitative","scale":{"type":"log","domain":[0.01,100000],"nice":false},"axis":{"orient":"bottom","values":[0.01,0.02,0.03,0.04,0.05,0.06,0.07,0.08,0.09,0.1,0.2,0.3,0.4,0.5,0.6,0.7,0.8,0.9,1,2,3,4,5,6,7,8,9,10,20,30,40,50,60,70,80,90,100,200,300,400,500,600,700,800,900,1000,2000,3000,4000,5000,6000,7000,8000,9000,10000,20000,30000,40000,50000,60000,70000,80000,90000,100000],"labelExpr":"abs(log(datum.value)/LN10-round(log(datum.value)/LN10))<0.01?format(datum.value,'~r'):''","labelPadding":9,"title":"Period (s)","titleFontSize":13,"titlePadding":6,"grid":true,"gridOpacity":{"condition":{"test":"abs(log(datum.value)/LN10-round(log(datum.value)/LN10))<0.01","value":1},"value":0},"tickSize":{"condition":{"test":"abs(log(datum.value)/LN10-round(log(datum.value)/LN10))<0.01","value":7},"value":4}}},
  "y":{"field":"v","type":"quantitative","scale":{"type":"log","domain":[0.001,100],"nice":false},"axis":{"orient":"left","values":[0.001,0.002,0.003,0.004,0.005,0.006,0.007,0.008,0.009,0.01,0.02,0.03,0.04,0.05,0.06,0.07,0.08,0.09,0.1,0.2,0.3,0.4,0.5,0.6,0.7,0.8,0.9,1,2,3,4,5,6,7,8,9,10,20,30,40,50,60,70,80,90,100],"grid":true,"gridOpacity":{"condition":{"test":"abs(log(datum.value)/LN10-round(log(datum.value)/LN10))<0.01","value":1},"value":0},"tickSize":{"condition":{"test":"abs(log(datum.value)/LN10-round(log(datum.value)/LN10))<0.01","value":10},"value":5},"labelExpr":"abs(log(datum.value)/LN10-round(log(datum.value)/LN10))<0.01?format(datum.value,'~r'):''","labelPadding":5,"title":"Parameter","titleFontSize":11.5,"titlePadding":13,"titleY":74}}}},
 {"data":{"name":"ann"},"transform":[{"filter":"datum.k=='a'&&datum.r=='bot'"}],"mark":{"type":"text","fontSize":22,"fill":"white","stroke":"white","strokeWidth":9,"strokeJoin":"round"},
  "encoding":{"x":{"field":"p","type":"quantitative","scale":{"type":"log","domain":[0.01,100000],"nice":false},"axis":{"orient":"top","values":[0.01,0.02,0.03,0.04,0.05,0.06,0.07,0.08,0.09,0.1,0.2,0.3,0.4,0.5,0.6,0.7,0.8,0.9,1,2,3,4,5,6,7,8,9,10,20,30,40,50,60,70,80,90,100,200,300,400,500,600,700,800,900,1000,2000,3000,4000,5000,6000,7000,8000,9000,10000,20000,30000,40000,50000,60000,70000,80000,90000,100000],"labels":false,"title":null,"grid":false,"tickSize":{"condition":{"test":"abs(log(datum.value)/LN10-round(log(datum.value)/LN10))<0.01","value":7},"value":4}}},
  "y":{"field":"v","type":"quantitative","scale":{"type":"log","domain":[0.001,100],"nice":false},"axis":{"orient":"right","values":[0.001,0.002,0.003,0.004,0.005,0.006,0.007,0.008,0.009,0.01,0.02,0.03,0.04,0.05,0.06,0.07,0.08,0.09,0.1,0.2,0.3,0.4,0.5,0.6,0.7,0.8,0.9,1,2,3,4,5,6,7,8,9,10,20,30,40,50,60,70,80,90,100],"labels":false,"title":null,"grid":false,"tickSize":{"condition":{"test":"abs(log(datum.value)/LN10-round(log(datum.value)/LN10))<0.01","value":10},"value":5}}},"text":{"field":"t"}}},
 {"data":{"name":"aS"},"mark":{"type":"point","shape":"circle","filled":false,"color":"black","strokeWidth":1.6,"size":60,"opacity":1},"encoding":{"x":{"field":"p","type":"quantitative","scale":{"type":"log","domain":[0.01,100000],"nice":false},"axis":null},"y":{"field":"v","type":"quantitative","scale":{"type":"log","domain":[0.001,100],"nice":false},"axis":null}}},
 {"data":{"name":"aPS"},"mark":{"type":"point","shape":"circle","filled":true,"color":"black","size":100,"opacity":1},"encoding":{"x":{"field":"p","type":"quantitative","scale":{"type":"log","domain":[0.01,100000],"nice":false},"axis":null},"y":{"field":"v","type":"quantitative","scale":{"type":"log","domain":[0.001,100],"nice":false},"axis":null}}},
 {"data":{"name":"ann"},"transform":[{"filter":"datum.k=='a'&&datum.r=='bot'"}],"mark":{"type":"text","fontSize":22,"color":"black"},"encoding":{"x":{"field":"p","type":"quantitative","scale":{"type":"log","domain":[0.01,100000],"nice":false},"axis":null},"y":{"field":"v","type":"quantitative","scale":{"type":"log","domain":[0.001,100],"nice":false},"axis":null},"text":{"field":"t"}}}
]},
{"width":329,"height":110,"resolve":{"axis":{"x":"independent","y":"independent"}},"layer":[
 {"data":{"name":"bMTA"},"mark":{"type":"point","shape":"diamond","filled":true,"color":"black","size":95,"opacity":1},
  "encoding":{"x":{"field":"p","type":"quantitative","scale":{"type":"log","domain":[0.01,100000],"nice":false},"axis":{"orient":"bottom","values":[0.01,0.02,0.03,0.04,0.05,0.06,0.07,0.08,0.09,0.1,0.2,0.3,0.4,0.5,0.6,0.7,0.8,0.9,1,2,3,4,5,6,7,8,9,10,20,30,40,50,60,70,80,90,100,200,300,400,500,600,700,800,900,1000,2000,3000,4000,5000,6000,7000,8000,9000,10000,20000,30000,40000,50000,60000,70000,80000,90000,100000],"labelExpr":"abs(log(datum.value)/LN10-round(log(datum.value)/LN10))<0.01?format(datum.value,'~r'):''","labelPadding":9,"title":"Period (s)","titleFontSize":13,"titlePadding":6,"grid":true,"gridOpacity":{"condition":{"test":"abs(log(datum.value)/LN10-round(log(datum.value)/LN10))<0.01","value":1},"value":0},"tickSize":{"condition":{"test":"abs(log(datum.value)/LN10-round(log(datum.value)/LN10))<0.01","value":7},"value":4}}},
  "y":{"field":"v","type":"quantitative","scale":{"type":"log","domain":[0.001,100],"nice":false},"axis":{"orient":"left","values":[0.001,0.002,0.003,0.004,0.005,0.006,0.007,0.008,0.009,0.01,0.02,0.03,0.04,0.05,0.06,0.07,0.08,0.09,0.1,0.2,0.3,0.4,0.5,0.6,0.7,0.8,0.9,1,2,3,4,5,6,7,8,9,10,20,30,40,50,60,70,80,90,100],"grid":true,"gridOpacity":{"condition":{"test":"abs(log(datum.value)/LN10-round(log(datum.value)/LN10))<0.01","value":1},"value":0},"tickSize":{"condition":{"test":"abs(log(datum.value)/LN10-round(log(datum.value)/LN10))<0.01","value":10},"value":5},"labels":false,"title":null}}}},
 {"data":{"name":"ann"},"transform":[{"filter":"datum.k=='b'&&datum.r=='bot'"}],"mark":{"type":"text","fontSize":22,"fill":"white","stroke":"white","strokeWidth":9,"strokeJoin":"round"},
  "encoding":{"x":{"field":"p","type":"quantitative","scale":{"type":"log","domain":[0.01,100000],"nice":false},"axis":{"orient":"top","values":[0.01,0.02,0.03,0.04,0.05,0.06,0.07,0.08,0.09,0.1,0.2,0.3,0.4,0.5,0.6,0.7,0.8,0.9,1,2,3,4,5,6,7,8,9,10,20,30,40,50,60,70,80,90,100,200,300,400,500,600,700,800,900,1000,2000,3000,4000,5000,6000,7000,8000,9000,10000,20000,30000,40000,50000,60000,70000,80000,90000,100000],"labels":false,"title":null,"grid":false,"tickSize":{"condition":{"test":"abs(log(datum.value)/LN10-round(log(datum.value)/LN10))<0.01","value":7},"value":4}}},
  "y":{"field":"v","type":"quantitative","scale":{"type":"log","domain":[0.001,100],"nice":false},"axis":{"orient":"right","values":[0.001,0.002,0.003,0.004,0.005,0.006,0.007,0.008,0.009,0.01,0.02,0.03,0.04,0.05,0.06,0.07,0.08,0.09,0.1,0.2,0.3,0.4,0.5,0.6,0.7,0.8,0.9,1,2,3,4,5,6,7,8,9,10,20,30,40,50,60,70,80,90,100],"labels":false,"title":null,"grid":false,"tickSize":{"condition":{"test":"abs(log(datum.value)/LN10-round(log(datum.value)/LN10))<0.01","value":10},"value":5}}},"text":{"field":"t"}}},
 {"data":{"name":"bS"},"mark":{"type":"point","shape":"circle","filled":false,"color":"black","strokeWidth":1.6,"size":60,"opacity":1},"encoding":{"x":{"field":"p","type":"quantitative","scale":{"type":"log","domain":[0.01,100000],"nice":false},"axis":null},"y":{"field":"v","type":"quantitative","scale":{"type":"log","domain":[0.001,100],"nice":false},"axis":null}}},
 {"data":{"name":"bPS"},"mark":{"type":"point","shape":"circle","filled":true,"color":"black","size":120,"opacity":1},"encoding":{"x":{"field":"p","type":"quantitative","scale":{"type":"log","domain":[0.01,100000],"nice":false},"axis":null},"y":{"field":"v","type":"quantitative","scale":{"type":"log","domain":[0.001,100],"nice":false},"axis":null}}},
 {"data":{"name":"ann"},"transform":[{"filter":"datum.k=='b'&&datum.r=='bot'"}],"mark":{"type":"text","fontSize":22,"color":"black"},"encoding":{"x":{"field":"p","type":"quantitative","scale":{"type":"log","domain":[0.01,100000],"nice":false},"axis":null},"y":{"field":"v","type":"quantitative","scale":{"type":"log","domain":[0.001,100],"nice":false},"axis":null},"text":{"field":"t"}}}
]},
{"width":329,"height":110,"resolve":{"axis":{"x":"independent","y":"independent"}},"layer":[
 {"data":{"name":"cMTA"},"mark":{"type":"point","shape":"diamond","filled":true,"color":"black","size":75,"opacity":1},
  "encoding":{"x":{"field":"p","type":"quantitative","scale":{"type":"log","domain":[0.01,100000],"nice":false},"axis":{"orient":"bottom","values":[0.01,0.02,0.03,0.04,0.05,0.06,0.07,0.08,0.09,0.1,0.2,0.3,0.4,0.5,0.6,0.7,0.8,0.9,1,2,3,4,5,6,7,8,9,10,20,30,40,50,60,70,80,90,100,200,300,400,500,600,700,800,900,1000,2000,3000,4000,5000,6000,7000,8000,9000,10000,20000,30000,40000,50000,60000,70000,80000,90000,100000],"labelExpr":"abs(log(datum.value)/LN10-round(log(datum.value)/LN10))<0.01?format(datum.value,'~r'):''","labelPadding":9,"title":"Period (s)","titleFontSize":13,"titlePadding":6,"grid":true,"gridOpacity":{"condition":{"test":"abs(log(datum.value)/LN10-round(log(datum.value)/LN10))<0.01","value":1},"value":0},"tickSize":{"condition":{"test":"abs(log(datum.value)/LN10-round(log(datum.value)/LN10))<0.01","value":7},"value":4}}},
  "y":{"field":"v","type":"quantitative","scale":{"type":"log","domain":[0.001,100],"nice":false},"axis":{"orient":"left","values":[0.001,0.002,0.003,0.004,0.005,0.006,0.007,0.008,0.009,0.01,0.02,0.03,0.04,0.05,0.06,0.07,0.08,0.09,0.1,0.2,0.3,0.4,0.5,0.6,0.7,0.8,0.9,1,2,3,4,5,6,7,8,9,10,20,30,40,50,60,70,80,90,100],"grid":true,"gridOpacity":{"condition":{"test":"abs(log(datum.value)/LN10-round(log(datum.value)/LN10))<0.01","value":1},"value":0},"tickSize":{"condition":{"test":"abs(log(datum.value)/LN10-round(log(datum.value)/LN10))<0.01","value":10},"value":5},"labels":false,"title":null}}}},
 {"data":{"name":"ann"},"transform":[{"filter":"datum.k=='c'&&datum.r=='bot'"}],"mark":{"type":"text","fontSize":22,"fill":"white","stroke":"white","strokeWidth":9,"strokeJoin":"round"},
  "encoding":{"x":{"field":"p","type":"quantitative","scale":{"type":"log","domain":[0.01,100000],"nice":false},"axis":{"orient":"top","values":[0.01,0.02,0.03,0.04,0.05,0.06,0.07,0.08,0.09,0.1,0.2,0.3,0.4,0.5,0.6,0.7,0.8,0.9,1,2,3,4,5,6,7,8,9,10,20,30,40,50,60,70,80,90,100,200,300,400,500,600,700,800,900,1000,2000,3000,4000,5000,6000,7000,8000,9000,10000,20000,30000,40000,50000,60000,70000,80000,90000,100000],"labels":false,"title":null,"grid":false,"tickSize":{"condition":{"test":"abs(log(datum.value)/LN10-round(log(datum.value)/LN10))<0.01","value":7},"value":4}}},
  "y":{"field":"v","type":"quantitative","scale":{"type":"log","domain":[0.001,100],"nice":false},"axis":{"orient":"right","values":[0.001,0.002,0.003,0.004,0.005,0.006,0.007,0.008,0.009,0.01,0.02,0.03,0.04,0.05,0.06,0.07,0.08,0.09,0.1,0.2,0.3,0.4,0.5,0.6,0.7,0.8,0.9,1,2,3,4,5,6,7,8,9,10,20,30,40,50,60,70,80,90,100],"labels":false,"title":null,"grid":false,"tickSize":{"condition":{"test":"abs(log(datum.value)/LN10-round(log(datum.value)/LN10))<0.01","value":10},"value":5}}},"text":{"field":"t"}}},
 {"data":{"name":"cS"},"mark":{"type":"point","shape":"circle","filled":false,"color":"black","strokeWidth":1.6,"size":60,"opacity":1},"encoding":{"x":{"field":"p","type":"quantitative","scale":{"type":"log","domain":[0.01,100000],"nice":false},"axis":null},"y":{"field":"v","type":"quantitative","scale":{"type":"log","domain":[0.001,100],"nice":false},"axis":null}}},
 {"data":{"name":"cPS"},"mark":{"type":"point","shape":"circle","filled":true,"color":"black","size":100,"opacity":1},"encoding":{"x":{"field":"p","type":"quantitative","scale":{"type":"log","domain":[0.01,100000],"nice":false},"axis":null},"y":{"field":"v","type":"quantitative","scale":{"type":"log","domain":[0.001,100],"nice":false},"axis":null}}},
 {"data":{"name":"ann"},"transform":[{"filter":"datum.k=='c'&&datum.r=='bot'"}],"mark":{"type":"text","fontSize":22,"color":"black"},"encoding":{"x":{"field":"p","type":"quantitative","scale":{"type":"log","domain":[0.01,100000],"nice":false},"axis":null},"y":{"field":"v","type":"quantitative","scale":{"type":"log","domain":[0.001,100],"nice":false},"axis":null},"text":{"field":"t"}}}
]}
]
}
